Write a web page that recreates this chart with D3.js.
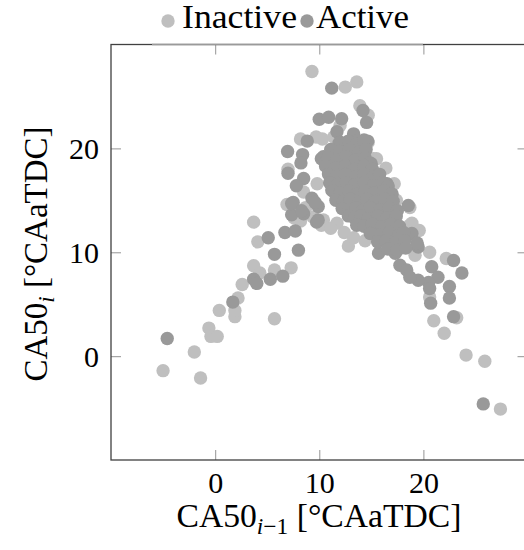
<!DOCTYPE html>
<html>
<head>
<meta charset="utf-8">
<script src="https://cdn.jsdelivr.net/npm/d3@7"></script>
<style>
  body { margin: 0; background: #fff; }
</style>
</head>
<body>
<svg id="chart" width="524" height="550"></svg>
<script>
const FONT = "'Liberation Serif', 'Times New Roman', serif";

// Inactive (light) points, [CA50_{i-1}, CA50_i]
const inactive = [
  [-5.0,-1.4],[-1.4,-2.1],[-2.0,0.4],[-0.6,2.7],[-0.4,1.9],[0.2,1.9],[0.4,4.4],[1.9,3.8],[1.9,4.4],
  [2.2,5.6],[2.6,6.9],[3.7,8.7],[4.3,8.0],[3.7,12.9],[4.1,11.0],[5.7,3.6],[5.7,8.3],[7.3,8.5],
  [12.8,10.6],[14.4,11.1],[18.7,12.6],[20.6,10.0],[22.2,9.4],[20.6,5.7],[23.2,3.7],[21.0,3.4],
  [22.0,2.2],[24.1,0.1],[25.9,-0.5],[27.4,-5.1],
  [9.3,27.4],[12.5,25.9],[13.6,26.4],[13.9,24.1],[14.7,23.2],[8.2,20.9],[9.7,21.1],[7.0,18.0],
  [8.5,15.8],[6.9,14.6],[13.9,19.8],[15.2,19.0],[14.7,20.6],[15.5,19.0],[11.4,21.1],
  [9.4,13.4],[10.4,13.1],[11.7,12.8],[8.2,13.0],[8.7,14.3],[10.2,12.6],[11.1,12.3],[12.4,11.9],
  [17.4,15.0],[18.7,14.3],[18.9,12.8],[17.0,10.4],[19.6,12.1],[16.4,18.1],[17.2,16.6],
  [13.3,11.4],[15.9,10.3],[12.0,22.2],[10.3,20.9],[9.8,16.6],[7.6,13.3],[19.2,9.7]
];

// Active (dark) points
const active = [
  [-4.6,1.7],[1.7,5.2],[3.7,7.4],[4.0,7.0],[5.3,7.4],[6.5,7.7],[5.1,11.4],[5.7,9.8],[8.0,10.2],
  [6.7,11.9],[7.7,12.05],[9.75,12.9],[9.9,14.4],[8.5,13.7],[7.35,13.6],[7.5,14.8],[9.3,15.2],
  [7.35,14.7],[8.3,14.0],[9.6,14.8],[9.9,13.1],
  [11.2,25.8],[10.0,22.8],[10.9,23.0],[12.15,22.85],[11.7,21.6],[13.3,21.4],[14.2,23.65],
  [14.55,22.5],[14.65,20.7],[8.85,20.7],[6.96,19.7],[8.4,19.4],[8.24,18.6],[7.0,17.6],[8.5,17.1],
  [7.8,16.4],[10.2,19.0],[10.4,19.2],[10.7,18.5],[10.9,17.6],[11.2,16.0],[12.0,20.6],[13.1,20.8],
  [15.0,18.5],[16.5,16.6],[16.6,16.4],[18.55,14.5],[18.9,11.8],[19.5,10.5],[19.4,10.9],
  [15.7,9.9],[17.3,9.9],[17.75,8.75],[18.4,8.3],[20.8,8.6],[21.4,7.6],[20.5,7.1],[19.5,7.3],
  [18.7,7.6],[20.6,6.5],[20.7,5.1],[22.5,6.7],[22.5,5.6],[22.9,3.8],[22.9,9.2],[23.7,8.0],
  [25.75,-4.6],
  // dense core
  [11.9,20.5],[12.8,20.7],[13.6,20.4],[14.3,20.8],
  [11.1,19.9],[12.0,19.7],[12.9,19.9],[13.8,19.6],[14.5,19.9],
  [10.8,19.1],[11.7,18.9],[12.6,19.2],[13.5,18.9],[14.4,19.1],[14.9,18.6],
  [10.6,18.3],[11.5,18.1],[12.5,18.3],[13.4,18.0],[14.3,18.3],[15.1,18.0],
  [10.9,17.5],[11.6,17.3],[12.5,17.5],[13.4,17.2],[14.3,17.5],[15.2,17.3],[15.8,17.5],
  [11.0,16.7],[11.8,16.5],[12.6,16.7],[13.4,16.5],[14.3,16.7],[15.2,16.4],[16.1,16.7],[16.6,16.3],
  [11.3,15.9],[12.0,15.7],[12.8,15.9],[13.6,15.6],[14.4,15.9],[15.3,15.7],[16.2,15.9],[17.0,15.6],
  [11.6,15.0],[12.3,14.9],[13.0,15.1],[13.8,14.8],[14.6,15.1],[15.4,14.9],[16.3,15.1],[17.1,14.9],
  [12.2,14.2],[12.9,14.1],[13.5,14.3],[14.2,14.0],[14.9,14.3],[15.8,14.1],[16.7,14.3],[17.5,14.0],
  [12.8,13.5],[13.4,13.3],[14.0,13.5],[14.7,13.2],[15.6,13.5],[16.5,13.3],[17.4,13.5],
  [13.6,12.6],[14.3,12.5],[15.1,12.7],[16.0,12.4],[16.9,12.7],[17.7,12.5],
  [14.9,11.8],[15.8,11.7],[16.7,11.9],[17.6,11.6],[18.1,11.9],
  [15.6,11.0],[16.4,11.1],[17.3,10.9],[18.2,11.1],
  [16.6,10.3],[17.5,10.2],[18.3,10.4]
];

const xTicks = [0, 10, 20];
const yTicks = [0, 10, 20];
const seriesNames = ['Inactive', 'Active'];
const seriesColors = ['#bfbfbf', '#999999'];

const svg = d3.select('#chart');
const x = d3.scaleLinear().domain([-10, 30]).range([111, 527.5]);
const y = d3.scaleLinear().domain([-10, 30]).range([460, 44.5]);

const tickColor = '#a6a6a6';

function styleAxis(g) {
  g.attr('font-family', null).attr('font-size', null);
  g.select('.domain').remove();
  g.selectAll('.tick line').attr('stroke', tickColor).attr('stroke-width', 1.2);
  g.selectAll('text').style('font-family', FONT).style('font-size', '30px').attr('fill', '#000');
}

svg.append('g').attr('transform', 'translate(0,460)')
  .call(d3.axisBottom(x).tickValues(xTicks).tickSize(-10).tickPadding(12))
  .call(styleAxis);
svg.append('g').attr('transform', 'translate(0,44.5)')
  .call(d3.axisTop(x).tickValues(xTicks).tickSize(-10).tickFormat(''))
  .call(styleAxis);
svg.append('g').attr('transform', 'translate(111,0)')
  .call(d3.axisLeft(y).tickValues(yTicks).tickSize(-10).tickPadding(12))
  .call(styleAxis)
  .selectAll('text').attr('dy', '0.35em');
svg.append('g').attr('transform', 'translate(527.5,0)')
  .call(d3.axisRight(y).tickValues(yTicks).tickSize(-10).tickFormat(''))
  .call(styleAxis);

// points
svg.append('g').selectAll('circle').data(inactive).join('circle')
  .attr('cx', d => x(d[0])).attr('cy', d => y(d[1])).attr('r', 6.7)
  .attr('fill', seriesColors[0]);
svg.append('g').selectAll('circle').data(active).join('circle')
  .attr('cx', d => x(d[0])).attr('cy', d => y(d[1])).attr('r', 6.7)
  .attr('fill', seriesColors[1]);

// frame
svg.append('rect')
  .attr('x', x(-10)).attr('y', y(30))
  .attr('width', x(30) - x(-10)).attr('height', y(-10) - y(30))
  .attr('fill', 'none').attr('stroke', '#404040').attr('stroke-width', 1.3);
svg.append('line')
  .attr('x1', 152).attr('x2', 423).attr('y1', y(30)).attr('y2', y(30))
  .attr('stroke', '#9a9a9a').attr('stroke-width', 1.3);

// legend
const legendX = [168, 307];
const legendText = [182, 316];
const legendW = [115, 93];
seriesNames.forEach((name, i) => {
  svg.append('circle').attr('cx', legendX[i]).attr('cy', 21).attr('r', 6.7).attr('fill', seriesColors[i]);
  svg.append('text').attr('x', legendText[i]).attr('y', 28)
    .style('font-family', FONT).style('font-size', '33px')
    .attr('textLength', legendW[i]).attr('lengthAdjust', 'spacingAndGlyphs')
    .text(name);
});

// x label
const xl = svg.append('text').attr('x', 319).attr('y', 527)
  .attr('text-anchor', 'middle').style('font-family', FONT).style('font-size', '33px');
xl.append('tspan').text('CA50');
xl.append('tspan').attr('dy', 7).style('font-size', '23px').style('font-style', 'italic').text('i');
xl.append('tspan').style('font-size', '23px').text('−1');
xl.append('tspan').attr('dy', -7).text(' [°CAaTDC]');
xl.attr('textLength', 285).attr('lengthAdjust', 'spacingAndGlyphs');

// y label
const yl = svg.append('text').attr('transform', 'translate(47,254) rotate(-90)')
  .attr('text-anchor', 'middle').style('font-family', FONT).style('font-size', '33px');
yl.append('tspan').text('CA50');
yl.append('tspan').attr('dy', 7).style('font-size', '23px').style('font-style', 'italic').text('i');
yl.append('tspan').attr('dy', -7).text(' [°CAaTDC]');
yl.attr('textLength', 255).attr('lengthAdjust', 'spacingAndGlyphs');
</script>
</body>
</html>
